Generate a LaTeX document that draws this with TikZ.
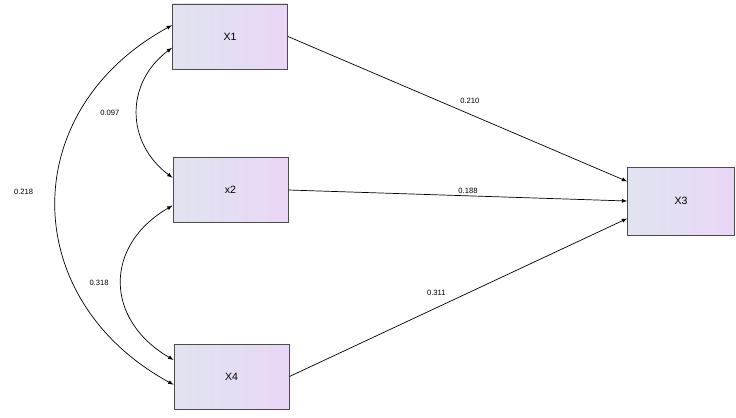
\documentclass[tikz,border=0pt]{standalone}
\usepackage{fontspec}
\setmainfont{Liberation Sans}
\usetikzlibrary{positioning, arrows}
\usetikzlibrary{calc}

\definecolor{boxleft}{RGB}{224,228,240}
\definecolor{boxright}{RGB}{234,214,246}

\begin{document}
\begin{tikzpicture}[x=0.03cm, y=-0.03cm, >=latex, auto,
    var/.style={draw=gray!60!black, line width=0.8pt, rectangle,
        left color=boxleft, right color=boxright,
        minimum width=3.45cm, minimum height=1.95cm, inner sep=0pt,
        font=\fontsize{9}{11}\selectfont},
    lbl/.style={font=\fontsize{6.5}{8}\selectfont, inner sep=2pt}]
    \useasboundingbox (0,0) rectangle (736,417);
    % Define variables
    \node[var] (x1) at (230,36.5) {X1};
    \node[var] (x2) at (230.5,190) {x2};
    \node[var] (x4) at (231.5,376.5) {X4};
    \node[var, minimum width=3.2cm, minimum height=2.04cm] (x3) at (681,201) {X3};

    % Define paths
    \path[->, line width=0.6pt]
    (x1.east) edge node[lbl, pos=0.5, yshift=2pt] {0.210} (x3.160)
    (x2.east) edge node[lbl, pos=0.53] {0.188} (x3.west)
    (x4.east) edge node[lbl, pos=0.47, yshift=3pt] {0.311} (x3.198);

    % Define covariances
    \draw[<->, line width=0.6pt] (x1.169) .. controls +(-156,85) and +(-156,-85) .. node[lbl, left, pos=0.5, xshift=-0.6cm, yshift=0.4cm] {0.218} (x4.188);
    \draw[<->, line width=0.6pt] (x1.191) .. controls +(-47,35) and +(-47,-35) .. node[lbl, left, pos=0.5, xshift=-0.45cm] {0.097} (x2.168);
    \draw[<->, line width=0.6pt] (x2.195) .. controls +(-69,40) and +(-69,-40) .. node[lbl, left, pos=0.5, xshift=-0.3cm] {0.318} (x4.164);
\end{tikzpicture}
\end{document}
